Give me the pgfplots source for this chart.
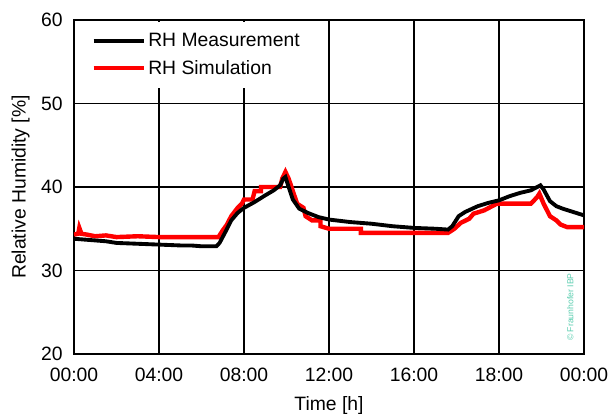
\documentclass[border=0pt]{standalone}
\usepackage{fontspec}
\setmainfont{Liberation Sans}
\usepackage{pgfplots}
\pgfplotsset{compat=1.18}
\definecolor{cpy}{RGB}{90,205,175}
\begin{document}
\begin{tikzpicture}
\begin{axis}[
  name=ax,
  scale only axis,
  width=382.5pt, height=250.5pt,
  xmin=0, xmax=24, ymin=20, ymax=60,
  xtick={0,4,8,12,16,20,24},
  xticklabels={00:00,04:00,08:00,12:00,16:00,18:00,00:00},
  ytick={20,30,40,50,60},
  grid=major,
  major grid style={black, line width=1.1pt},
  axis line style={black, line width=1.6pt},
  tick style={draw=none},
  /pgf/number format/assume math mode=true,
  tick label style={font=\fontsize{14.5}{16}\selectfont},
  yticklabel style={anchor=east, xshift=-5pt},
  xticklabel style={anchor=north, yshift=-7pt},
  label style={font=\fontsize{14.5}{16}\selectfont},
  xlabel={Time [h]},
  ylabel={Relative Humidity [\%]},
  xlabel style={at={(0.5,0)}, yshift=-39pt, anchor=center},
  ylabel style={at={(0,0.5)}, yshift=40pt, anchor=center},
  legend style={at={(0,1)}, anchor=north west, xshift=1pt, yshift=-1pt,
    draw=none, fill=white, font=\fontsize{14.5}{16}\selectfont,
    inner xsep=12pt, inner ysep=6.5pt, row sep=5pt,
    nodes={inner xsep=1.5pt}},
  legend cell align=left,
  legend image code/.code={\draw[#1] (0pt,0pt) -- (38pt,0pt);},
]
\addlegendimage{black, line width=3pt}
\addlegendentry{RH Measurement}
\addlegendimage{red, line width=3pt}
\addlegendentry{RH Simulation}
% Simulation
\addplot[red, line width=3.3pt, forget plot] coordinates {
(0,34.3) (0.2,34.4) (0.25,35.1) (0.35,34.4) (0.6,34.3) (1.0,34.1) (1.5,34.2) (2.0,34.0)
(3.0,34.1) (4.0,34.0) (5.0,34.0) (6.0,34.0) (6.8,34.0) (7.0,34.8) (7.2,35.5)
(7.4,36.5) (7.7,37.5) (7.9,38.0) (8.0,38.5) (8.4,38.5) (8.5,39.5) (8.8,39.5)
(8.8,40.0) (9.7,40.0) (9.8,41.0) (9.95,41.8) (10.1,41.0) (10.3,39.5) (10.5,38.0)
(10.8,37.5) (10.9,36.5) (11.2,36.0) (11.6,36.0) (11.6,35.3) (12.0,35.0)
(13.5,35.0) (13.5,34.5) (17.6,34.5) (17.9,35.0) (18.2,35.7) (18.6,36.2)
(18.8,36.8) (19.3,37.2) (19.6,37.6) (19.9,38.0) (21.5,38.0) (21.8,38.8)
(21.9,39.2) (22.1,38.0) (22.4,36.5) (22.7,36.0) (22.9,35.5) (23.2,35.2) (24,35.2)
};
% Measurement
\addplot[black, line width=2.9pt, forget plot] coordinates {
(0,33.8) (0.5,33.7) (1,33.6) (1.5,33.5) (2,33.3) (3,33.2) (4,33.1) (5,33.0)
(5.5,33.0) (6,32.9) (6.7,32.9) (6.85,33.3) (7.1,34.5) (7.4,36.0) (7.7,36.9)
(8.0,37.5) (8.5,38.2) (9.0,39.0) (9.4,39.6) (9.7,40.2) (9.85,41.0) (9.95,41.2)
(10.1,40.0) (10.3,38.5) (10.6,37.4) (11.0,36.9) (11.5,36.4) (12.0,36.1)
(13.0,35.8) (14.0,35.6) (15.0,35.3) (16.0,35.1) (17.0,35.0) (17.6,34.9)
(17.8,35.3) (18.1,36.5) (18.4,37.0) (19.0,37.7) (19.5,38.1) (20.0,38.4)
(20.5,38.9) (21.0,39.3) (21.5,39.6) (21.8,40.0) (21.95,40.2) (22.1,39.7)
(22.4,38.3) (22.7,37.7) (23.0,37.4) (23.5,37.0) (24.0,36.6)
};
\node[rotate=90, anchor=west, text=cpy, font=\fontsize{6.5}{7}\selectfont]
  at (rel axis cs:0.973,0.025) {© Fraunhofer IBP};
\end{axis}
\pgfresetboundingbox
\path ([shift={(-55.5pt,-45pt)}]ax.south west) rectangle ([shift={(18pt,15pt)}]ax.north east);
\end{tikzpicture}
\end{document}
